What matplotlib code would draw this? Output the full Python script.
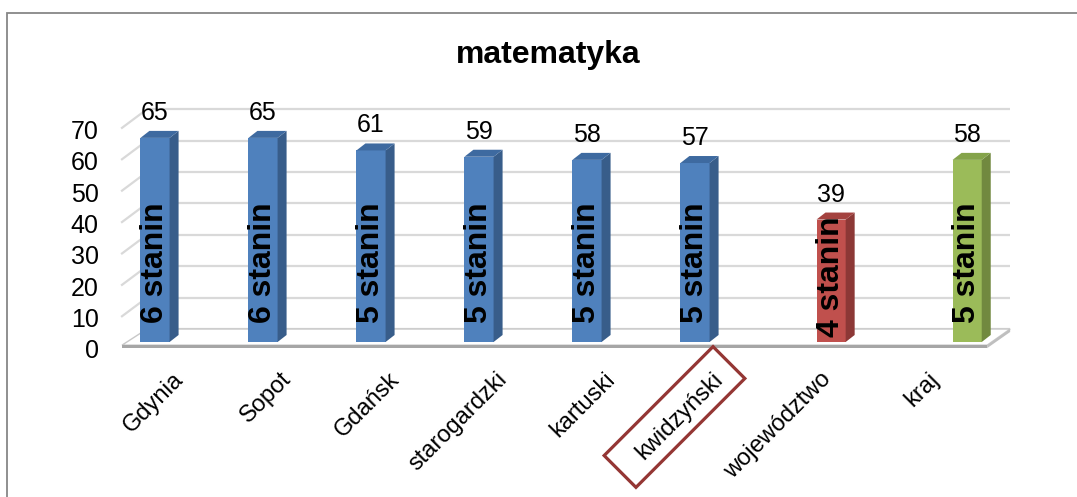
import numpy as np
import matplotlib
matplotlib.use('Agg')
import matplotlib.pyplot as plt
from matplotlib import transforms as mtransforms
from matplotlib.patches import Polygon, Rectangle

# ---------------- data ----------------
categories = ['Gdynia', 'Sopot', 'Gdańsk', 'starogardzki', 'kartuski',
              'kwidzyński', 'województwo', 'kraj']
values = [65, 65, 61, 59, 58, 57, 39, 58]
stanines = [6, 6, 5, 5, 5, 5, 4, 5]
yticks = [0, 10, 20, 30, 40, 50, 60, 70]
title = 'matematyka'
highlight = 'kwidzyński'

# ---------------- style ----------------
front_colors = ['#4F81BD'] * 6 + ['#C0504D', '#9BBB59']
side_colors = ['#385D8A'] * 6 + ['#8C3836', '#71893F']
top_colors = ['#3E6AA0'] * 6 + ['#A4423F', '#84A34A']

plt.rcParams['font.family'] = ['Liberation Sans', 'DejaVu Sans']

W, H = 1077, 497
fig = plt.figure(figsize=(W / 100, H / 100), dpi=100)
fig.patch.set_facecolor('white')

# layout in pixels
PX, PY = 108.0, 3.14           # px per category, px per unit
X0PX, Y0PX = 155.0, 342.0      # pixel of category 0 / value 0
ax_l, ax_r, ax_t, ax_b = 103, 1065, 85, 356
ax = fig.add_axes([ax_l / W, 1 - ax_b / H, (ax_r - ax_l) / W, (ax_b - ax_t) / H])
ax.set_xlim((ax_l - X0PX) / PX, (ax_r - X0PX) / PX)
ax.set_ylim((Y0PX - ax_b) / PY, (Y0PX - ax_t) / PY)
ax.set_facecolor('none')
for s in ax.spines.values():
    s.set_visible(False)

n = len(categories)
idx = np.arange(n)
SUMMARY_STEP = 0.26
pos = idx + SUMMARY_STEP * np.clip(idx - 5, 0, None)

BW = 0.27                 # bar width
DX, DY = 9 / PX, 7 / PY   # bar depth
WALL_DX, WALL_DY = 25 / PX, 13 / PY
FRONT_DY = -1.8

floor_x0 = pos[0] - 33 / PX
floor_x1 = pos[-1] + 20 / PX
wall_x0 = floor_x0 + WALL_DX
wall_x1 = floor_x1 + 23 / PX

# back wall gridlines and side wall diagonals
for v in yticks:
    ax.plot([wall_x0, wall_x1], [v + WALL_DY, v + WALL_DY], color='#D9D9D9', lw=1.6, zorder=1,
            solid_capstyle='butt')
    if v > 0:
        ax.plot([floor_x0, wall_x0], [v + FRONT_DY, v + WALL_DY], color='#D9D9D9', lw=1.6, zorder=1)

# floor
f_top = -1.0
f_bot = f_top - 3 / PY
ax.add_patch(Polygon([(floor_x0, f_top), (floor_x1, f_top), (wall_x1, WALL_DY), (wall_x0, WALL_DY)],
                     closed=True, fc='white', ec='#C8C8C8', lw=1.0, zorder=2))
ax.add_patch(Polygon([(floor_x0, f_top), (floor_x1, f_top), (floor_x1, f_bot), (floor_x0, f_bot)],
                     closed=True, fc='#A6A6A6', ec='none', zorder=2))
ax.add_patch(Polygon([(floor_x1, f_top), (wall_x1, WALL_DY), (wall_x1, WALL_DY - 3 / PY), (floor_x1, f_bot)],
                     closed=True, fc='#BFBFBF', ec='none', zorder=2))

# bars
bars = ax.bar(pos, values, width=BW, color=front_colors, zorder=3, linewidth=0)
for p, v, sc, tc in zip(pos, values, side_colors, top_colors):
    r = p + BW / 2
    l = p - BW / 2
    ax.add_patch(Polygon([(r, 0), (r + DX, DY), (r + DX, v + DY), (r, v)],
                         closed=True, fc=sc, ec='none', zorder=3))
    ax.add_patch(Polygon([(l, v), (l + DX, v + DY), (r + DX, v + DY), (r, v)],
                         closed=True, fc=tc, ec='none', zorder=3))

# value labels
for p, v in zip(pos, values):
    ax.annotate(str(v), xy=(p, v), xytext=(0, 25 * 0.72), textcoords='offset points',
                ha='center', va='center', fontsize=18, zorder=5)

# stanine labels inside bars (kept inside the bar)
STANIN_SPAN = 37.5
for p, v, s in zip(pos, values, stanines):
    base = min(6.0, v - STANIN_SPAN)
    ax.text(p, base, f'{s} stanin', rotation=90, ha='center', va='bottom',
            fontsize=23, fontweight='bold', zorder=5)

# y axis labels
ax.set_yticks(yticks)
ax.tick_params(axis='y', length=0, pad=3, labelsize=18, labelcolor='black')
for lab in ax.get_yticklabels():
    lab.set_transform(lab.get_transform() + mtransforms.ScaledTranslation(0, -7 / 100, fig.dpi_scale_trans))

# x axis labels
ax.set_xticks(idx)
ax.set_xticklabels(categories, rotation=45, ha='right', rotation_mode='anchor', fontsize=17)
ax.tick_params(axis='x', length=0, pad=0)
for lab in ax.get_xticklabels():
    lab.set_transform(lab.get_transform() + mtransforms.ScaledTranslation(17 / 100, -12 / 100, fig.dpi_scale_trans))

# highlight box around a category label
k = categories.index(highlight)
L, Wd = 154, 45
box_tr = (mtransforms.Affine2D().rotate_deg(45).translate(-20.5, -75)
          + mtransforms.ScaledTranslation(idx[k], 0, ax.transData))
ax.add_patch(Rectangle((-L / 2, -Wd / 2), L, Wd, transform=box_tr, fill=False,
                       ec='#943634', lw=2.3, clip_on=False, zorder=6))

# title
fig.text(548 / W, 1 - 55 / H, title, ha='center', va='center', fontsize=23, fontweight='bold')

# chart border
fig.add_artist(Rectangle((7 / W, -0.1), 1.2, 1 - 13 / H + 0.1, transform=fig.transFigure,
                         fill=False, ec='#878787', lw=1.3))

fig.savefig('out.png', dpi=100, facecolor='white')
